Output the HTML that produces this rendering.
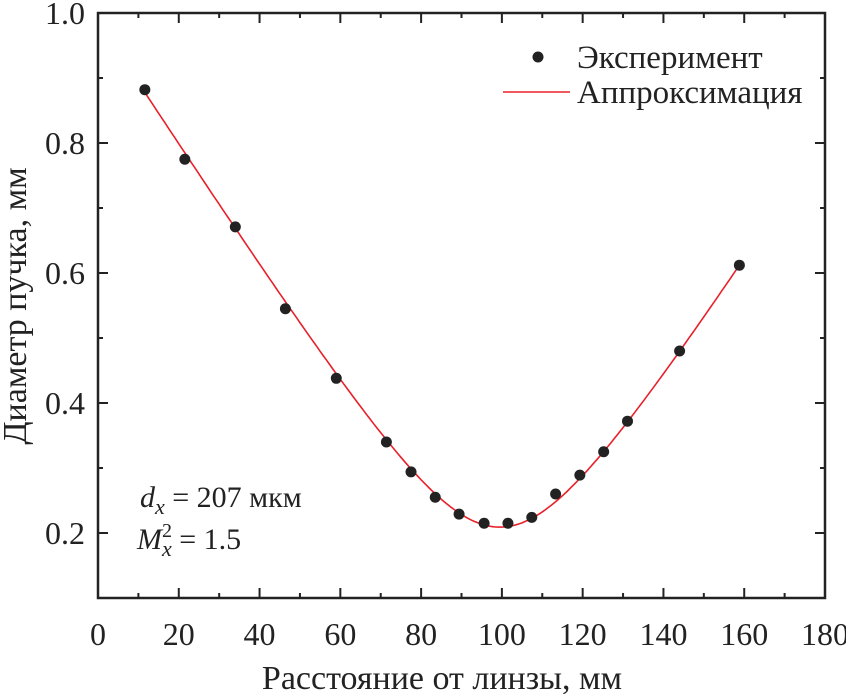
<!DOCTYPE html>
<html><head><meta charset="utf-8"><style>
body{margin:0;background:#fff}
svg{display:block;font-family:"Liberation Serif",serif}
</style></head><body>
<svg id="chart" width="846" height="694"></svg>
<script>
const xVals=[11.6,21.5,34,46.4,59,71.4,77.5,83.5,89.4,95.6,101.5,107.4,113.3,119.3,125.2,131.1,144,158.8];
const yVals=[0.882,0.775,0.671,0.545,0.438,0.34,0.294,0.255,0.229,0.215,0.215,0.224,0.26,0.289,0.325,0.372,0.48,0.612];
const fitParams=[0.209,99.5,0.0097]; // d0, z0, theta
const fitRange=[11.6,158.8];
const xTicks=[0,20,40,60,80,100,120,140,160,180];
const yTicks=[0.2,0.4,0.6,0.8,1.0];
const L=98,R=825,T=13,B=598;
const xs=v=>L+(v-0)/180*(R-L);
const ys=v=>B-(v-0.1)/0.9*(B-T);
const svg=document.getElementById('chart');
const NS='http://www.w3.org/2000/svg';
function mk(tag,attrs,parent){const e=document.createElementNS(NS,tag);for(const k in attrs)e.setAttribute(k,attrs[k]);(parent||svg).appendChild(e);return e;}
for(let v=0;v<=180;v+=10){const x=xs(v),len=v%20===0?10:5;
 let t=mk('line',{x1:x,x2:x,y1:B,y2:B-len,stroke:'#222','stroke-width':2});
 
 t=mk('line',{x1:x,x2:x,y1:T,y2:T+len,stroke:'#222','stroke-width':2});
 }
for(let i=1;i<=9;i++){const v=0.1+i*0.1,y=ys(v),len=i%2===1?10:5;
 let t=mk('line',{x1:L,x2:L+len,y1:y,y2:y,stroke:'#222','stroke-width':2});
 
 t=mk('line',{x1:R,x2:R-len,y1:y,y2:y,stroke:'#222','stroke-width':2});
 }
const frame=mk('rect',{x:L,y:T,width:R-L,height:B-T,fill:'none',stroke:'#222','stroke-width':2.5});

xTicks.forEach(v=>{const t=mk('text',{x:xs(v),y:645,'text-anchor':'middle','font-size':32,fill:'#222'});t.textContent=v;
 });
yTicks.forEach(v=>{const t=mk('text',{x:85,y:ys(v)+11,'text-anchor':'end','font-size':32,fill:'#222'});t.textContent=v.toFixed(1);
 });
let t=mk('text',{x:442,y:689,'text-anchor':'middle','font-size':34,fill:'#222'});t.textContent='Расстояние от линзы, мм';

t=mk('text',{x:0,y:0,'text-anchor':'middle','font-size':34,fill:'#222',transform:'translate(26,306) rotate(-90)'});t.textContent='Диаметр пучка, мм';

let d='';for(let i=0;i<=200;i++){const z=fitRange[0]+(fitRange[1]-fitRange[0])*i/200;
 const v=Math.sqrt(fitParams[0]**2+(fitParams[2]*(z-fitParams[1]))**2);d+=(i?'L':'M')+xs(z).toFixed(1)+','+ys(v).toFixed(1);}
const fit=mk('path',{d:d,fill:'none',stroke:'#e8202a','stroke-width':1.6});

xVals.forEach((x,i)=>{const c=mk('circle',{cx:xs(x),cy:ys(yVals[i]),r:5.5,fill:'#222'});
 });
const lg=mk('g',{});
mk('circle',{cx:538,cy:57,r:5.5,fill:'#222'},lg);
t=mk('text',{x:577,y:68,'font-size':33,fill:'#222'},lg);t.textContent='Эксперимент';
mk('line',{x1:503,x2:570,y1:92,y2:92,stroke:'#e8202a','stroke-width':1.6},lg);
t=mk('text',{x:577,y:103,'font-size':33,fill:'#222'},lg);t.textContent='Аппроксимация';
const an=mk('g',{});
t=mk('text',{x:140,y:507,'font-size':30,fill:'#222'},an);
t.innerHTML='<tspan font-style="italic">d</tspan><tspan font-style="italic" font-size="22" dy="7">x</tspan><tspan dy="-7"> = 207 мкм</tspan>';
t=mk('text',{x:137,y:549,'font-size':30,fill:'#222'},an);
t.innerHTML='<tspan font-style="italic">M</tspan><tspan font-size="20" dy="-12">2</tspan><tspan font-style="italic" font-size="22" dx="-10" dy="19">x</tspan><tspan dy="-7"> = 1.5</tspan>';
</script>
</body></html>
